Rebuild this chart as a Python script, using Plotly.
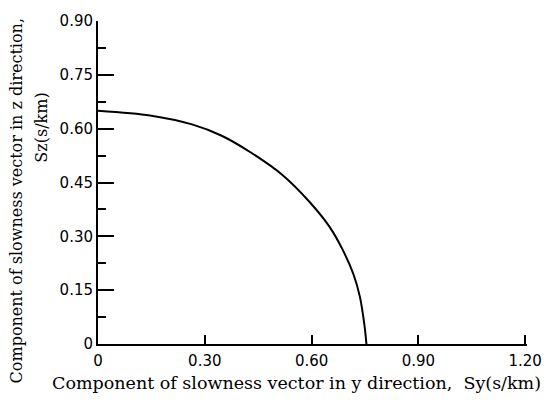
import plotly.graph_objects as go

sy = [0.0, 0.146, 0.264, 0.346, 0.427, 0.518, 0.595, 0.650, 0.686, 0.718, 0.736, 0.749, 0.754]
sz = [0.650, 0.637, 0.612, 0.581, 0.535, 0.471, 0.395, 0.327, 0.265, 0.193, 0.130, 0.048, 0.0]

x_ticks = [0, 0.30, 0.60, 0.90, 1.20]
x_labels = ["0", "0.30", "0.60", "0.90", "1.20"]
y_ticks = [0, 0.15, 0.30, 0.45, 0.60, 0.75, 0.90]
y_labels = ["0", "0.15", "0.30", "0.45", "0.60", "0.75", "0.90"]

x_title = "Component of slowness vector in y direction,  Sy(s/km)"
y_title1 = "Component of slowness vector in z direction,"
y_title2 = "Sz(s/km)"

fig = go.Figure()
fig.add_trace(go.Scatter(x=sy, y=sz, mode="lines",
                         line=dict(color="black", width=2, shape="spline", smoothing=0.8),
                         showlegend=False, hoverinfo="skip"))

tickfont = dict(family="DejaVu Sans", size=15, color="black")
fig.update_xaxes(range=[0, 1.205], tickvals=x_ticks, ticktext=x_labels, ticks="inside", ticklen=9,
                 tickwidth=1.5, tickcolor="black", showline=True, linecolor="black", linewidth=2,
                 showgrid=False, zeroline=False, tickfont=tickfont, ticklabeloverflow="allow",
                 ticklabelstandoff=2)
fig.update_yaxes(range=[0, 0.9], tickvals=y_ticks, ticktext=y_labels, ticks="inside", ticklen=16,
                 tickwidth=1.5, tickcolor="black", showline=True, linecolor="black", linewidth=2,
                 showgrid=False, zeroline=False, tickfont=tickfont, ticklabeloverflow="allow",
                 minor=dict(dtick=0.075, ticks="inside", ticklen=8, tickwidth=1.5, tickcolor="black", tick0=0))

fig.add_annotation(text=x_title, xref="paper", yref="paper", x=0.462, y=-0.122, xanchor="center",
                   yanchor="middle", showarrow=False,
                   font=dict(family="DejaVu Serif", size=17.5, color="black"))
fig.add_annotation(text=y_title1, xref="paper", yref="paper", x=-0.19, y=0.443, xanchor="center",
                   yanchor="middle", textangle=-90, showarrow=False,
                   font=dict(family="DejaVu Serif", size=16, color="black"))
fig.add_annotation(text=y_title2, xref="paper", yref="paper", x=-0.131, y=0.669, xanchor="center",
                   yanchor="middle", textangle=-90, showarrow=False,
                   font=dict(family="DejaVu Serif", size=16, color="black"))

fig.update_layout(width=554, height=402, margin=dict(l=98, r=14, t=12, b=58),
                  plot_bgcolor="white", paper_bgcolor="white")
fig.write_html("out.html")
